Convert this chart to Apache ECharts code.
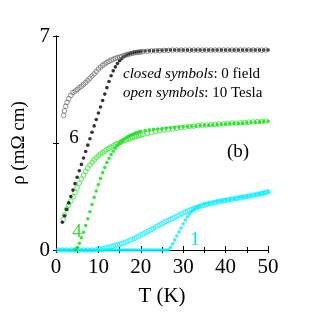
<!DOCTYPE html>
<html><head><meta charset="utf-8">
<script src="https://cdn.jsdelivr.net/npm/echarts@6/dist/echarts.min.js"></script>
<style>html,body{margin:0;padding:0;background:#fff}#c{width:312px;height:312px}</style>
</head><body><div id="c"></div>
<script>
// x ticks / y ticks
const xTicks = [0, 10, 20, 30, 40, 50];
const yTickLabels = {0: '0', 7: '7'};

// Sample 6 (black), 0 field (closed) : [T (K), rho]
const black0T = [
[1.5,0.91],[2,1.12],[2.5,1.33],[3,1.54],[3.5,1.75],[4,1.96],[4.5,2.17],[5,2.38],[5.5,2.59],[6,2.80],
[6.5,3.01],[7,3.22],[7.5,3.43],[8,3.64],[8.5,3.85],[9,4.06],[9.5,4.27],[10,4.48],[10.5,4.68],[11,4.89],
[11.5,5.10],[12,5.31],[12.5,5.51],[13,5.70],[13.5,5.86],[14,5.99],[14.5,6.10],[15,6.19],[15.5,6.26],[16,6.32],
[16.5,6.36],[17,6.40],[17.5,6.43],[18,6.45],[18.5,6.47],[19,6.48],[19.5,6.49],[20,6.50],[21,6.51],[22,6.52],
[23,6.52],[24,6.53],[25,6.53],[26,6.54],[27,6.54],[28,6.54],[29,6.54],[30,6.54],[31,6.54],[32,6.54],
[33,6.54],[34,6.54],[35,6.54],[36,6.54],[37,6.54],[38,6.54],[39,6.54],[40,6.54],[41,6.54],[42,6.54],
[43,6.54],[44,6.54],[45,6.54],[46,6.54],[47,6.54],[48,6.54],[49,6.54],[50,6.54]
];
// Sample 6 (black), 10 Tesla (open)
const black10T = [
[1.8,4.40],[2,4.55],[2.3,4.70],[2.6,4.83],[3,4.95],[3.5,5.06],[4,5.15],[4.5,5.20],[5,5.25],[5.5,5.31],
[6,5.36],[6.5,5.42],[7,5.48],[7.5,5.55],[8,5.62],[8.5,5.69],[9,5.76],[9.5,5.84],[10,5.92],[10.5,5.98],
[11,6.04],[11.5,6.09],[12,6.14],[12.5,6.17],[13,6.21],[13.5,6.24],[14,6.27],[14.5,6.29],[15,6.31],[15.5,6.33],
[16,6.36],[16.5,6.38],[17,6.40],[17.5,6.42],[18,6.44],[18.5,6.45],[19,6.46],[19.5,6.47],[20,6.48],[20.5,6.49],
[21.5,6.50],[22.5,6.51],[23.5,6.52],[24.5,6.52],[25.5,6.53],[26.5,6.53],[27.5,6.54],[28.5,6.54],[29.5,6.54],[30.5,6.54],
[31.5,6.54],[32.5,6.54],[33.5,6.54],[34.5,6.54],[35.5,6.54],[36.5,6.54],[37.5,6.54],[38.5,6.54],[39.5,6.54],[40.5,6.54],
[41.5,6.54],[42.5,6.54],[43.5,6.54],[44.5,6.54],[45.5,6.54],[46.5,6.54],[47.5,6.54],[48.5,6.54],[49.5,6.54]
];
// Sample 4 (green), 0 field (closed)
const green0T = [
[4.5,0.00],[5,0.08],[5.5,0.22],[6,0.40],[6.5,0.58],[7,0.80],[7.5,1.02],[8,1.25],[8.5,1.49],[9,1.72],
[9.5,1.93],[10,2.14],[10.5,2.34],[11,2.53],[11.5,2.70],[12,2.86],[12.5,3.00],[13,3.12],[13.5,3.23],[14,3.33],
[14.5,3.42],[15,3.50],[15.5,3.56],[16,3.62],[16.5,3.67],[17,3.71],[17.5,3.75],[18,3.78],[18.5,3.81],[19,3.84],
[19.5,3.86],[20,3.88],[21,3.91],[22,3.93],[23,3.95],[24,3.96],[25,3.97],[26,3.99],[27,4.00],[28,4.01],
[29,4.02],[30,4.03],[31,4.04],[32,4.05],[33,4.06],[34,4.07],[35,4.08],[36,4.08],[37,4.09],[38,4.10],
[39,4.11],[40,4.12],[41,4.13],[42,4.14],[43,4.14],[44,4.15],[45,4.16],[46,4.17],[47,4.18],[48,4.19],
[49,4.20],[50,4.21]
];
// Sample 4 (green), 10 Tesla (open)
const green10T = [
[1.7,1.00],[2,1.15],[2.5,1.34],[3,1.47],[3.5,1.60],[4,1.74],[4.5,1.88],[5,2.03],[5.5,2.18],[6,2.32],
[6.5,2.45],[7,2.57],[7.5,2.68],[8,2.78],[8.5,2.87],[9,2.95],[9.5,3.02],[10,3.08],[10.5,3.14],[11,3.19],
[11.5,3.24],[12,3.29],[12.5,3.33],[13,3.37],[13.5,3.41],[14,3.45],[14.5,3.48],[15,3.51],[15.5,3.54],[16,3.57],
[16.5,3.60],[17,3.63],[17.5,3.65],[18,3.68],[18.5,3.70],[19,3.72],[19.5,3.74],[20,3.76],[20.5,3.78],[21.5,3.81],
[22.5,3.84],[23.5,3.87],[24.5,3.90],[25.5,3.92],[26.5,3.94],[27.5,3.96],[28.5,3.98],[29.5,4.00],[30.5,4.02],[31.5,4.04],
[32.5,4.05],[33.5,4.07],[34.5,4.08],[35.5,4.09],[36.5,4.10],[37.5,4.11],[38.5,4.12],[39.5,4.13],[40.5,4.14],[41.5,4.15],
[42.5,4.15],[43.5,4.16],[44.5,4.17],[45.5,4.18],[46.5,4.19],[47.5,4.20],[48.5,4.21],[49.5,4.22]
];
// Sample 1 (cyan), 0 field (closed)
const cyan0T = [
[0.5,0],[1,0],[1.5,0],[2,0],[2.5,0],[3,0],[3.5,0],[4,0],[4.5,0],[5,0],[5.5,0],[6,0],[6.5,0],[7,0],[7.5,0],
[8,0],[8.5,0],[9,0],[9.5,0],[10,0],[10.5,0],[11,0],[11.5,0],[12,0],[12.5,0],[13,0],[13.5,0],[14,0],[14.5,0],
[15,0],[15.5,0],[16,0],[16.5,0],[17,0],[17.5,0],[18,0],[18.5,0],[19,0],[19.5,0],[20,0],[20.5,0],[21,0],[21.5,0],
[22,0],[22.5,0],[23,0],[23.5,0],[24,0],[24.5,0],[25,0],[25.5,0],[26,0],[26.5,0.01],
[27,0.08],[27.5,0.20],[28,0.33],[28.5,0.46],[29,0.59],[29.5,0.72],[30,0.86],[30.5,0.98],[31,1.09],[31.5,1.18],
[32,1.26],[32.5,1.32],[33,1.37],[33.5,1.41],[34,1.45],[35,1.50],[36,1.53],[37,1.56],[38,1.59],[39,1.61],
[40,1.64],[41,1.66],[42,1.68],[43,1.71],[44,1.73],[45,1.76],[46,1.78],[47,1.81],[48,1.84],[49,1.87],[50,1.90]
];
// Sample 1 (cyan), 10 Tesla (open)
const cyan10T = [
[0.5,0],[1.5,0],[2.5,0],[3.5,0],[4.5,0],[5.5,0],[6.5,0],[7.5,0],[8.5,0],
[9.5,0.01],[10,0.02],[10.5,0.03],[11,0.04],[11.5,0.06],[12,0.07],[12.5,0.09],[13,0.11],[13.5,0.13],[14,0.15],
[14.5,0.17],[15,0.19],[15.5,0.21],[16,0.23],[16.5,0.26],[17,0.29],[17.5,0.32],[18,0.35],[18.5,0.38],[19,0.42],
[19.5,0.45],[20,0.49],[20.5,0.52],[21,0.56],[21.5,0.60],[22,0.63],[22.5,0.67],[23,0.71],[23.5,0.75],[24,0.79],
[24.5,0.83],[25,0.86],[25.5,0.90],[26,0.94],[26.5,0.97],[27,1.00],[27.5,1.04],[28,1.07],[28.5,1.11],[29,1.14],
[29.5,1.18],[30,1.21],[30.5,1.24],[31,1.27],[31.5,1.30],[32,1.33],[32.5,1.36],[33,1.38],[33.5,1.41],[34,1.43],
[34.5,1.45],[35,1.47],[35.5,1.49],[36,1.51],[36.5,1.52],[37,1.54],[37.5,1.55],[38,1.57],[38.5,1.58],[39,1.60],
[39.5,1.61],[40,1.62],[40.5,1.64],[41,1.65],[41.5,1.66],[42,1.67],[42.5,1.69],[43,1.70],[43.5,1.71],[44,1.72],
[44.5,1.74],[45,1.75],[45.5,1.76],[46,1.77],[46.5,1.79],[47,1.80],[47.5,1.82],[48,1.83],[48.5,1.85],[49,1.86],
[49.5,1.88],[50,1.90]
];

const FONT = 'Liberation Serif';
const chart = echarts.init(document.getElementById('c'), null, {renderer: 'canvas'});

function closed(data, color) {
  return {type: 'scatter', data: data, symbol: 'circle', symbolSize: 3.6,
    itemStyle: {color: color}, silent: true, animation: false};
}
function open(data, color) {
  return {type: 'scatter', data: data, symbol: 'circle', symbolSize: 4.6,
    itemStyle: {color: 'rgba(0,0,0,0)', borderColor: color, borderWidth: 0.9}, silent: true, animation: false};
}

chart.setOption({
  animation: false,
  grid: {left: 56, right: 44, top: 36, bottom: 53},
  xAxis: [{
    type: 'value', min: xTicks[0], max: xTicks[xTicks.length - 1], interval: 10,
    name: 'T (K)', nameLocation: 'middle', nameGap: 36,
    nameTextStyle: {fontFamily: FONT, fontSize: 21, color: '#000'},
    axisLine: {lineStyle: {color: '#888', width: 1}},
    axisTick: {inside: true, length: 4, lineStyle: {color: '#000'}},
    minorTick: {show: true, splitNumber: 2, length: 3, lineStyle: {color: '#000'}},
    axisLabel: {fontFamily: FONT, fontSize: 21, color: '#000', margin: 7},
    splitLine: {show: false}
  }, {
    type: 'value', position: 'top', min: 0, max: 50, interval: 5,
    axisLine: {lineStyle: {color: '#000', width: 1}},
    axisTick: {inside: true, length: 3, lineStyle: {color: '#000'}},
    axisLabel: {show: false}, splitLine: {show: false}
  }],
  yAxis: [{
    type: 'value', min: 0, max: 7, interval: 3.5,
    name: 'ρ (mΩ cm)', nameLocation: 'middle', nameGap: 26, nameRotate: 90,
    nameTextStyle: {fontFamily: FONT, fontSize: 19, color: '#000'},
    axisLine: {show: true, lineStyle: {color: '#888', width: 1}},
    axisTick: {show: true, inside: true, length: 3, lineStyle: {color: '#000'}},
    axisLabel: {fontFamily: FONT, fontSize: 21, color: '#000', margin: 6,
      formatter: function (v) { return yTickLabels[v] !== undefined ? yTickLabels[v] : ''; }},
    splitLine: {show: false}
  }, {
    type: 'value', position: 'right', min: 0, max: 7, interval: 3.5,
    axisLine: {show: true, lineStyle: {color: '#000', width: 1}},
    axisTick: {show: true, inside: true, length: 3, lineStyle: {color: '#000'}},
    axisLabel: {show: false}, splitLine: {show: false}
  }],
  series: [
    closed(cyan0T, '#00eeff'),
    open(cyan10T, '#00eeff'),
    closed(green0T, '#00e600'),
    open(green10T, '#22e022'),
    closed(black0T, '#000000'),
    open(black10T, '#666666')
  ],
  graphic: [
    {type: 'text', left: 123, top: 67, silent: true, style: {
      text: '{i|closed symbols}{n|: 0 field}',
      rich: {i: {fontFamily: FONT, fontStyle: 'italic', fontSize: 15, fill: '#000'},
             n: {fontFamily: FONT, fontSize: 15, fill: '#000'}}}},
    {type: 'text', left: 123, top: 86, silent: true, style: {
      text: '{i|open symbols}{n|: 10 Tesla}',
      rich: {i: {fontFamily: FONT, fontStyle: 'italic', fontSize: 15, fill: '#000'},
             n: {fontFamily: FONT, fontSize: 15, fill: '#000'}}}},
    {type: 'text', x: 74, y: 138, silent: true, style: {text: '6', fontFamily: FONT, fontSize: 19, fill: '#000', align: 'center', verticalAlign: 'middle'}},
    {type: 'text', x: 77, y: 232, silent: true, style: {text: '4', fontFamily: FONT, fontSize: 19, fill: '#33dd33', align: 'center', verticalAlign: 'middle'}},
    {type: 'text', x: 195, y: 240, silent: true, style: {text: '1', fontFamily: FONT, fontSize: 19, fill: '#00e6f5', align: 'center', verticalAlign: 'middle'}},
    {type: 'text', x: 238, y: 152, silent: true, style: {text: '(b)', fontFamily: FONT, fontSize: 19, fill: '#000', align: 'center', verticalAlign: 'middle'}}
  ]
});
</script>
</body></html>
